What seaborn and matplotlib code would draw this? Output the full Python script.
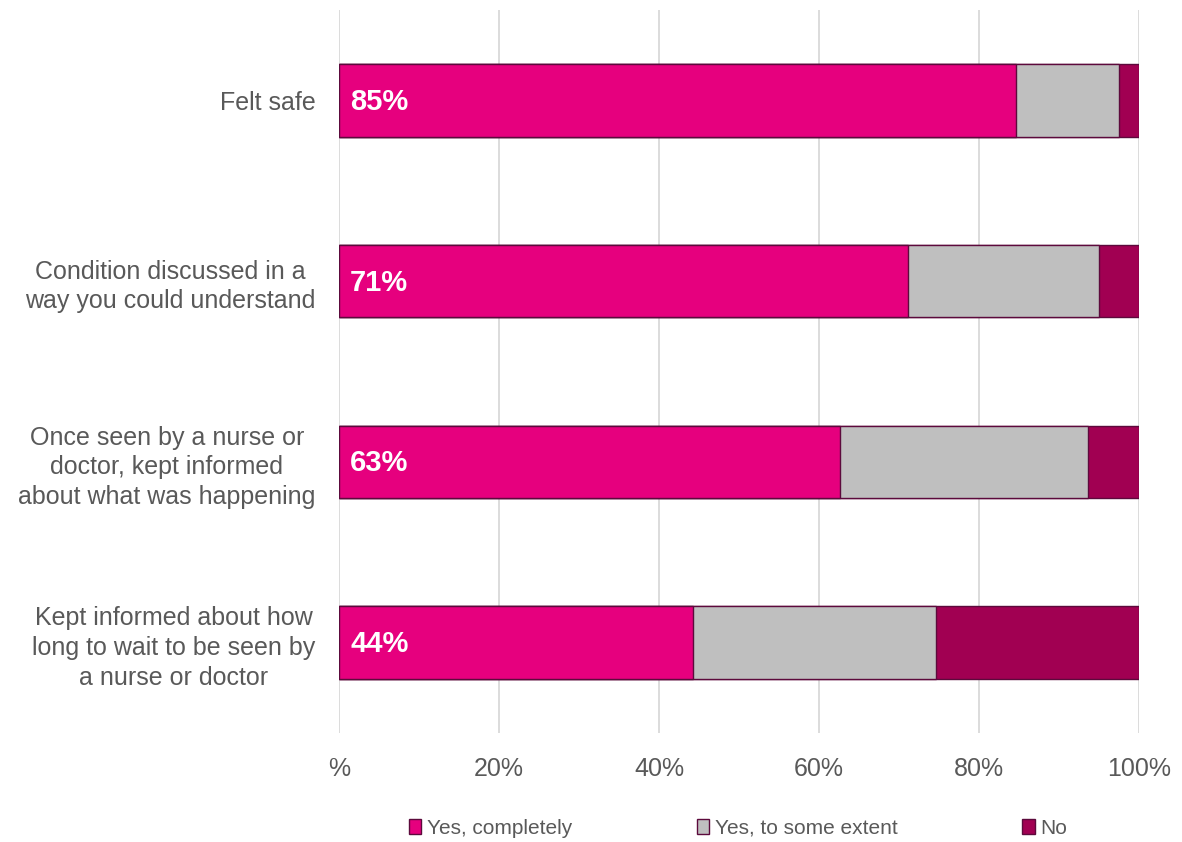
import matplotlib
matplotlib.use("Agg")
import matplotlib.pyplot as plt
from matplotlib.patches import Patch
import seaborn as sns
import numpy as np

# Survey items and response shares (%)
categories = [
    "Felt safe",
    "Condition discussed in a\nway you could understand",
    "Once seen by a nurse or\ndoctor, kept informed\nabout what was happening",
    "Kept informed about how\nlong to wait to be seen by\na nurse or doctor",
]
yes_completely = [84.6, 71.1, 62.6, 44.3]
yes_some_extent = [12.9, 23.9, 31.0, 30.3]
no = [2.5, 5.0, 6.4, 25.4]

series_names = ["Yes, completely", "Yes, to some extent", "No"]
tick_values = [0, 20, 40, 60, 80, 100]
tick_labels = ["%", "20%", "40%", "60%", "80%", "100%"]

PINK = "#E6007E"
GREY = "#BFBFBF"
PLUM = "#A10052"
EDGE = "#5C0A3C"
TEXT = "#595959"

sns.set_theme(style="white")
plt.rcParams["font.family"] = ["Liberation Sans", "DejaVu Sans"]

fig = plt.figure(figsize=(11.82, 8.42), dpi=100)
ax = fig.add_axes([339 / 1182, 1 - 733 / 842, 800 / 1182, 723 / 842])

# Stacked bars: draw cumulative totals from the back to the front
cum_pink = np.array(yes_completely)
cum_grey = cum_pink + np.array(yes_some_extent)
cum_all = cum_grey + np.array(no)

for values, colour in [(cum_all, PLUM), (cum_grey, GREY), (cum_pink, PINK)]:
    sns.barplot(x=values, y=categories, orient="h", color=colour, width=0.4,
                edgecolor=EDGE, linewidth=1.0, saturation=1, ax=ax, zorder=3)

# Value labels inside the first segment
for i, v in enumerate(yes_completely):
    ax.annotate(f"{v:.0f}%", xy=(0, i), xytext=(8, -1), textcoords="offset points",
                ha="left", va="center", color="white", fontsize=21,
                fontweight="bold", zorder=5)

ax.set_xlim(0, 100)
ax.set_xticks(tick_values)
ax.set_xticklabels(tick_labels)
ax.set_xlabel("")
ax.set_ylabel("")
ax.grid(axis="x", color="#D9D9D9", linewidth=1.3, zorder=0)
ax.grid(axis="y", visible=False)
for s in ax.spines.values():
    s.set_visible(False)
ax.tick_params(axis="x", length=0, pad=17, labelsize=18, labelcolor=TEXT)
ax.tick_params(axis="y", length=0, pad=17, labelsize=18, labelcolor=TEXT)
for lab in ax.get_yticklabels():
    lab.set_multialignment("center")
    lab.set_linespacing(1.3)

handles = [Patch(facecolor=c, edgecolor=EDGE, linewidth=1.0)
           for c in (PINK, GREY, PLUM)]
fig.legend(handles, series_names, loc="center", bbox_to_anchor=(738 / 1182, 1 - 828 / 842),
           ncol=3, frameon=False, fontsize=15, labelcolor=TEXT,
           handlelength=0.6, handleheight=0.75, handletextpad=0.25,
           columnspacing=6.0)

fig.savefig("out.png", dpi=100)
